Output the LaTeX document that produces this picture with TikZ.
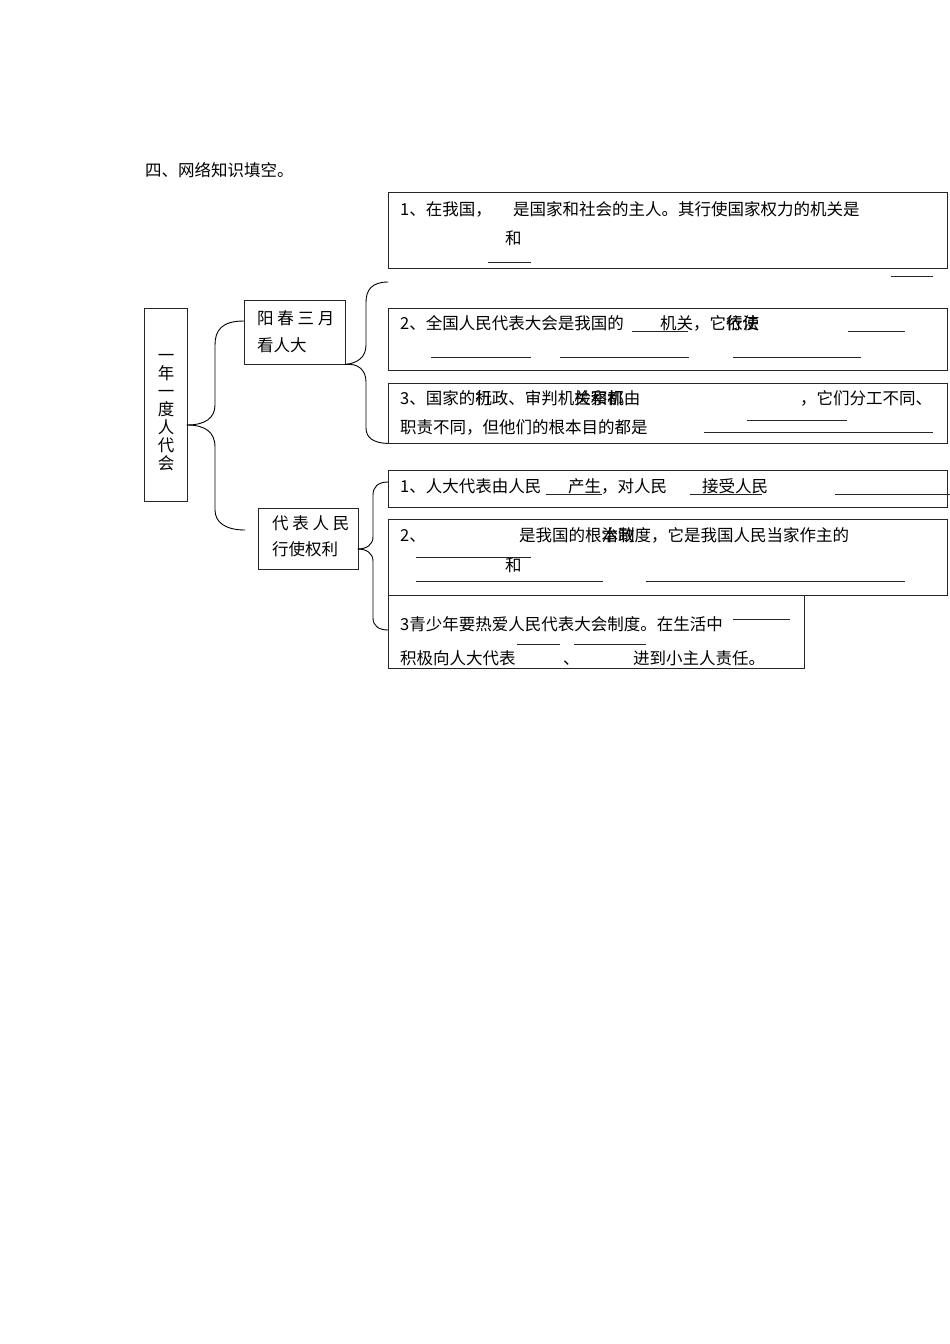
\documentclass[tikz,border=0pt]{standalone}
\usepackage{fontspec}
\setmainfont{Noto Sans CJK SC}
\usepackage{xcolor}
\usepackage{tikz}
\newcommand{\kfont}{\fontsize{16.5}{18}\selectfont}
\tikzset{
  kbox/.style={draw=black!85, line width=0.9pt, inner sep=0pt},
  ktext/.style={anchor=base west, inner sep=0pt, font=\kfont},
  kblank/.style={line width=0.9pt, draw=black!85},
  kbrace/.style={line width=0.9pt, draw=black, line cap=round},
}
\begin{document}
\begin{tikzpicture}[x=1pt,y=-1pt]
\useasboundingbox (0,0) rectangle (950,1344);
\node[ktext] (title) at (145,176) {四、网络知识填空。};
\node[kbox, minimum width=43pt, minimum height=193pt] (root) at (165.5,404.5) {};
\node[inner sep=0pt, align=center, font=\kfont] (rootlbl) at (166,413) {一\\年\\一\\度\\人\\代\\会};
\node[kbox, minimum width=101pt, minimum height=64pt] (spring) at (294.5,332) {};
\node[ktext] (springa) at (257,324) {阳 春 三 月};
\node[ktext] (springb) at (257,351) {看人大};
\node[kbox, minimum width=100pt, minimum height=61pt] (rep) at (308,538.5) {};
\node[ktext] (repa) at (272,529) {代 表 人 民};
\node[ktext] (repb) at (272,555) {行使权利};
\node[kbox, minimum width=559pt, minimum height=76pt] (p1) at (667.5,230) {};
\node[kbox, minimum width=559pt, minimum height=62pt] (p2) at (667.5,339) {};
\node[kbox, minimum width=559pt, minimum height=60pt] (p3) at (667.5,413) {};
\node[kbox, minimum width=559pt, minimum height=37pt] (r1) at (667.5,488.5) {};
\node[kbox, minimum width=559pt, minimum height=76pt] (r2) at (667.5,557) {};
\node[kbox, minimum width=416pt, minimum height=73pt] (r3) at (596,631.5) {};
\node[ktext] (p1a) at (400,215) {1、在我国，};
\node[ktext] (p1b) at (513,215) {是国家和社会的主人。其行使国家权力的机关是};
\node[ktext] (p1c) at (505,244) {和};
\draw[kblank] (488,262) -- (531,262);
\draw[kblank] (891,276) -- (933,276);
\node[ktext] (p2a) at (400,329) {2、全国人民代表大会是我国的};
\node[ktext] (p2b) at (660,329) {机关，它\rlap{依法}行使};
\draw[kblank] (632,331) -- (688,331);
\draw[kblank] (848,331) -- (905,331);
\draw[kblank] (431,357) -- (531,357);
\draw[kblank] (560,357) -- (689,357);
\draw[kblank] (733,357) -- (861,357);
\node[ktext] (p3a) at (400,404) {3、国家的\rlap{机}行政、审判机\rlap{关和}检察\rlap{机}都由};
\node[ktext] (p3b) at (800,404) {，它们分工不同、};
\draw[kblank] (747,420) -- (847,420);
\node[ktext] (p3c) at (400,433) {职责不同，但他们的根本目的都是};
\draw[kblank] (704,432) -- (933,432);
\node[ktext] (r1a) at (400,492) {1、人大代表由人民};
\node[ktext] (r1b) at (568,492) {产生，对人民};
\node[ktext] (r1c) at (702,492) {接受人民};
\draw[kblank] (546,494) -- (602,494);
\draw[kblank] (690,494) -- (762,494);
\draw[kblank] (835,494) -- (950,494);
\node[ktext] (r2a) at (400,541) {2、};
\node[ktext] (r2b) at (519,541) {是我国的根\rlap{本政}治制度，它是我国人民当家作主的};
\draw[kblank] (416,557) -- (531,557);
\node[ktext] (r2c) at (505,571) {和};
\draw[kblank] (416,581) -- (603,581);
\draw[kblank] (646,581) -- (905,581);
\node[ktext] (r3a) at (400,630) {3青少年要热爱人民代表大会制度。在生活中};
\draw[kblank] (733,619) -- (790,619);
\node[ktext] (r3b) at (400,664) {积极向人大代表};
\node[ktext] (r3c) at (563,664) {、};
\node[ktext] (r3d) at (633,664) {进到小主人责任。};
\draw[kblank] (517,644) -- (560,644);
\draw[kblank] (574,644) -- (646,644);
\coordinate (rtip) at (187,425);
\coordinate (sa) at (244,321);
\coordinate (sb) at (245,530);
\draw[kbrace] (sa) .. controls (222,321) and (215,330) .. (215,345) -- (215,405) .. controls (215,418) and (205,425) .. (rtip);
\draw[kbrace] (rtip) .. controls (205,425) and (215,432) .. (215,447) -- (215,510) .. controls (215,522) and (225,530) .. (sb);
\coordinate (pa) at (388,282);
\draw[kbrace] (pa) .. controls (372,282) and (366,290) .. (366,302) -- (366,345) .. controls (366,357) and (358,363) .. (spring.south east);
\draw[kbrace] (spring.south east) .. controls (358,363) and (366,370) .. (366,382) -- (366,428) .. controls (366,438) and (374,443) .. (p3.south west);
\coordinate (qa) at (388,482);
\coordinate (rtip2) at (358,549);
\coordinate (qb) at (388,630);
\draw[kbrace] (qa) .. controls (378,482) and (373,487) .. (373,495) -- (373,537) .. controls (373,545) and (366,549) .. (rtip2);
\draw[kbrace] (rtip2) .. controls (366,549) and (373,553) .. (373,561) -- (373,618) .. controls (373,626) and (379,630) .. (qb);
\end{tikzpicture}
\end{document}
